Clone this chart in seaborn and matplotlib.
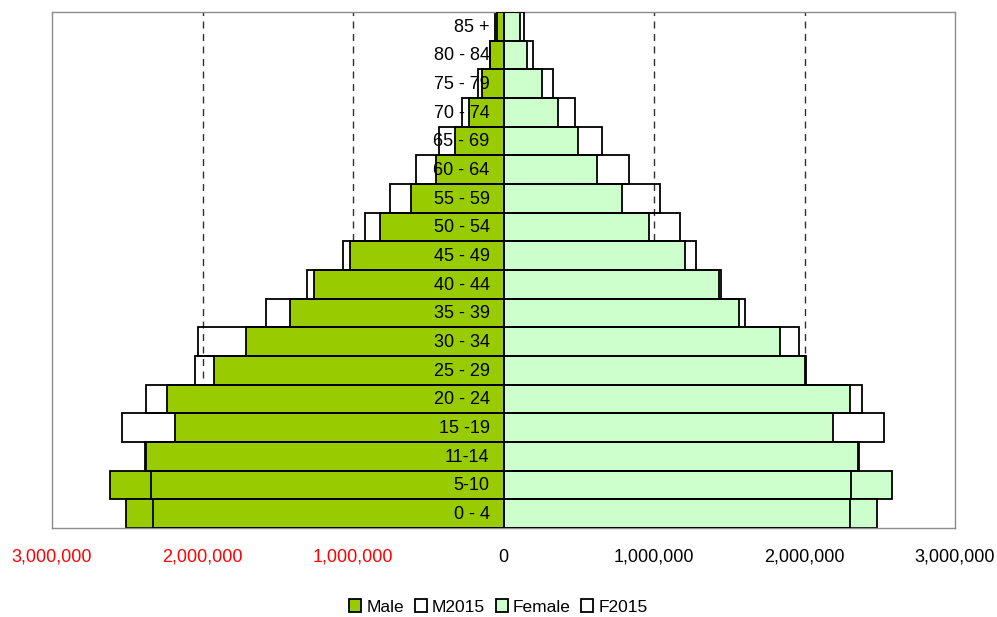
import matplotlib
matplotlib.use("Agg")
import matplotlib.pyplot as plt
import seaborn as sns
import pandas as pd
import numpy as np

# age groups, top row first
AGES = ["85 +", "80 - 84", "75 - 79", "70 - 74", "65 - 69", "60 - 64", "55 - 59",
        "50 - 54", "45 - 49", "40 - 44", "35 - 39", "30 - 34", "25 - 29", "20 - 24",
        "15 -19", "11-14", "5-10", "0 - 4"]

MALE = [55000, 88000, 143000, 226000, 323000, 449000, 615000, 819000, 1023000,
        1259000, 1416000, 1711000, 1923000, 2238000, 2182000, 2375000, 2612000, 2510000]
M2015 = [45000, 92000, 170000, 279000, 427000, 584000, 752000, 923000, 1066000,
         1303000, 1576000, 2027000, 2047000, 2375000, 2534000, 2380000, 2341000, 2331000]
FEMALE = [111000, 155000, 259000, 361000, 498000, 620000, 790000, 970000, 1207000,
          1432000, 1567000, 1840000, 2008000, 2300000, 2187000, 2355000, 2583000, 2479000]
F2015 = [137000, 193000, 330000, 476000, 655000, 835000, 1038000, 1173000, 1277000,
         1443000, 1603000, 1963000, 2000000, 2380000, 2526000, 2364000, 2311000, 2300000]

XTICKS = [-3000000, -2000000, -1000000, 0, 1000000, 2000000, 3000000]
GRID_AT = [-2000000, -1000000, 1000000, 2000000]

df = pd.DataFrame({"age": AGES,
                   "male": -np.array(MALE), "m2015": -np.array(M2015),
                   "female": FEMALE, "f2015": F2015})

sns.set_style("white")
plt.rcParams["font.family"] = ["Liberation Sans", "DejaVu Sans"]
plt.rcParams["text.color"] = "black"

fig = plt.figure(figsize=(9.97, 6.17), dpi=100)
ax = fig.add_axes([52 / 997, 89 / 617, 903 / 997, 516 / 617])

for g in GRID_AT:
    ax.axvline(g, color="#303030", lw=1, ls=(0, (5, 4)), zorder=0)

lw = 1.3
sns.barplot(data=df, x="male", y="age", orient="h", width=1, color="#99CC00",
            edgecolor="black", linewidth=lw, saturation=1, label="Male", ax=ax, zorder=2)
sns.barplot(data=df, x="m2015", y="age", orient="h", width=1, color="black",
            fill=False, linewidth=lw, label="M2015", ax=ax, zorder=3)
sns.barplot(data=df, x="female", y="age", orient="h", width=1, color="#CCFFCC",
            edgecolor="black", linewidth=lw, saturation=1, label="Female", ax=ax, zorder=2)
sns.barplot(data=df, x="f2015", y="age", orient="h", width=1, color="black",
            fill=False, linewidth=lw, label="F2015", ax=ax, zorder=3)

handles, labels = ax.get_legend_handles_labels()
if ax.get_legend() is not None:
    ax.get_legend().remove()

ax.set_xlim(-3000000, 3000000)
ax.set_xticks(XTICKS)
ax.set_xticklabels([f"{abs(v):,}" for v in XTICKS], fontsize=13)
for t, v in zip(ax.get_xticklabels(), XTICKS):
    t.set_color("red" if v < 0 else "black")
ax.tick_params(axis="x", direction="out", length=6, width=1, color="#808080", pad=9)
ax.set_yticks([])
ax.set_xlabel("")
ax.set_ylabel("")

# age labels sit just left of zero
for i, a in enumerate(AGES):
    ax.annotate(a, xy=(0, i), xytext=(-10, -0.5), textcoords="offset points",
                ha="right", va="center", fontsize=13, color="black", zorder=5)

for s in ax.spines.values():
    s.set_color("#8c8c8c")
    s.set_linewidth(1)
    s.set_visible(True)

leg = fig.legend(handles, labels, loc="center", bbox_to_anchor=(0.5, 1 - 607 / 617),
                 ncol=4, frameon=False, fontsize=12.5, handlelength=0.7, handleheight=0.7,
                 handletextpad=0.3, columnspacing=0.6)
for t in leg.get_texts():
    t.set_color("black")

fig.savefig("out.png", dpi=100)
